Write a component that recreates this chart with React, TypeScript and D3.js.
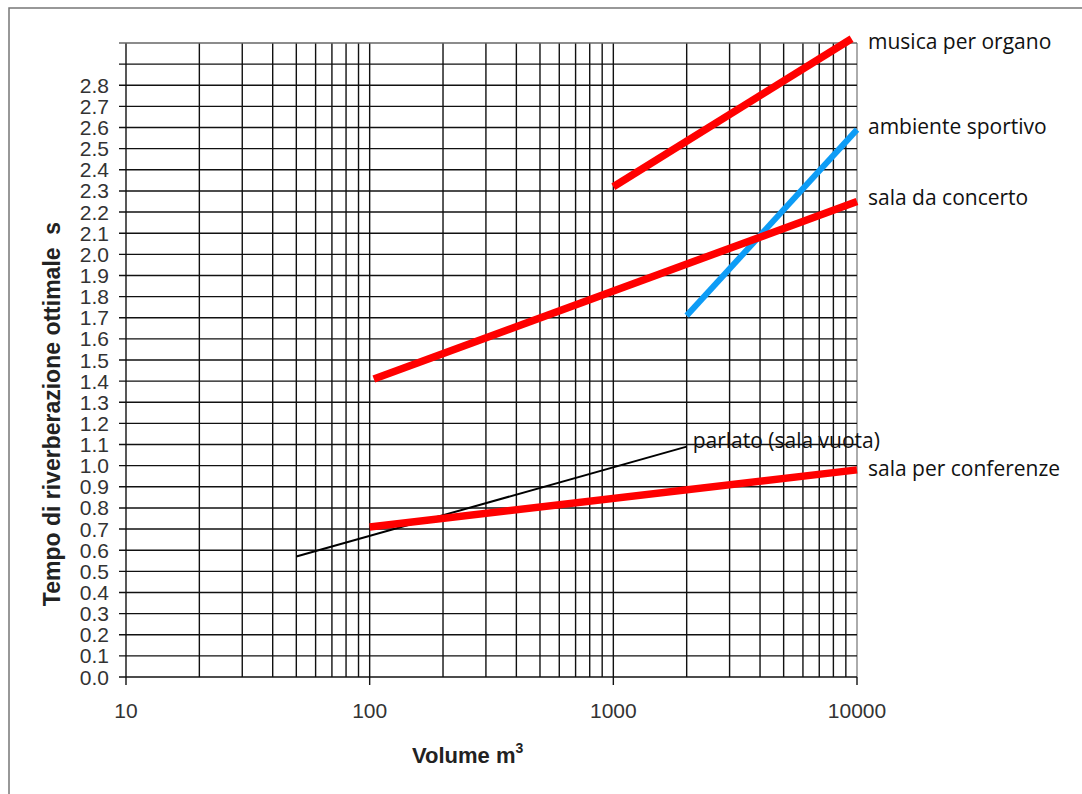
import React, { useEffect, useRef } from 'react';
import * as d3 from 'd3';

// x axis: room volume (m3), log scale
const volumeDomain = [10, 10000];
const volumeLabels = [10, 100, 1000, 10000];
// y axis: optimal reverberation time (s)
const timeDomain = [0, 3.0];
const timeGrid = [0, 0.1, 0.2, 0.3, 0.4, 0.5, 0.6, 0.7, 0.8, 0.9, 1.0, 1.1, 1.2, 1.3, 1.4, 1.5,
  1.6, 1.7, 1.8, 1.9, 2.0, 2.1, 2.2, 2.3, 2.4, 2.5, 2.6, 2.7, 2.8, 2.9, 3.0];
const timeLabels = [0, 0.1, 0.2, 0.3, 0.4, 0.5, 0.6, 0.7, 0.8, 0.9, 1.0, 1.1, 1.2, 1.3, 1.4, 1.5,
  1.6, 1.7, 1.8, 1.9, 2.0, 2.1, 2.2, 2.3, 2.4, 2.5, 2.6, 2.7, 2.8];

// series: [volume, time] end points
const musicaOrgano = [[1000, 2.32], [9500, 3.02]];
const ambienteSportivo = [[2000, 1.71], [10000, 2.59]];
const salaConcerto = [[104, 1.41], [10000, 2.25]];
const parlato = [[50, 0.57], [2000, 1.09]];
const salaConferenze = [[100, 0.71], [10000, 0.98]];

const seriesNames = ['musica per organo', 'ambiente sportivo', 'sala da concerto', 'parlato (sala vuota)', 'sala per conferenze'];
const seriesData = [musicaOrgano, ambienteSportivo, salaConcerto, parlato, salaConferenze];
const seriesColors = ['#ff0000', '#0d9cf6', '#ff0000', '#000000', '#ff0000'];
const seriesWidths = [7.5, 6, 7.5, 2, 7.5];
// label anchor [volume, time] for each series
const labelAnchors = [[10000, 3.0], [10000, 2.6], [10000, 2.26], [2000, 1.11], [10000, 0.98]];

const App = () => {
  const svgRef = useRef<SVGSVGElement>(null);

  useEffect(() => {
    const width = 1082;
    const height = 794;
    const margin = { top: 43, right: 225, bottom: 117, left: 126 };

    const svg = d3.select(svgRef.current);
    svg.selectAll('*').remove();
    svg.attr('width', width).attr('height', height);

    // outer frame
    svg.append('rect')
      .attr('x', 9).attr('y', 8)
      .attr('width', width + 20).attr('height', height + 20)
      .attr('fill', 'white')
      .attr('stroke', '#777')
      .attr('stroke-width', 1.5);

    const x = d3.scaleLog().domain(volumeDomain).range([margin.left, width - margin.right]);
    const y = d3.scaleLinear().domain(timeDomain).range([height - margin.bottom, margin.top]);

    const [x0, x1] = x.range();
    const [y0, y1] = y.range();

    const grid = svg.append('g').attr('stroke', '#111').attr('stroke-width', 1.4);

    // vertical grid (log minor lines)
    x.ticks().forEach(v => {
      grid.append('line')
        .attr('x1', x(v)).attr('x2', x(v))
        .attr('y1', y1).attr('y2', y0)
        .attr('stroke', v === 10000 ? '#888' : '#111');
    });

    // horizontal grid with small ticks to the left
    timeGrid.forEach(t => {
      grid.append('line')
        .attr('x1', x0 - 7).attr('x2', x1)
        .attr('y1', y(t)).attr('y2', y(t))
        .attr('stroke', t === 3.0 ? '#666' : '#111');
    });

    // decade ticks under the axis
    volumeLabels.forEach(v => {
      grid.append('line')
        .attr('x1', x(v)).attr('x2', x(v))
        .attr('y1', y0).attr('y2', y0 + 8);
    });

    // tick labels
    svg.append('g')
      .selectAll('text')
      .data(timeLabels)
      .join('text')
      .attr('x', x0 - 17)
      .attr('y', d => y(d) + 7.5)
      .attr('text-anchor', 'end')
      .attr('font-family', '"Liberation Sans", Arial, sans-serif')
      .attr('font-size', 21)
      .attr('fill', '#333')
      .text(d => d.toFixed(1));

    svg.append('g')
      .selectAll('text')
      .data(volumeLabels)
      .join('text')
      .attr('x', d => x(d))
      .attr('y', y0 + 41)
      .attr('text-anchor', 'middle')
      .attr('font-family', '"Liberation Sans", Arial, sans-serif')
      .attr('font-size', 21)
      .attr('fill', '#333')
      .text(d => String(d));

    // axis titles
    svg.append('text')
      .attr('transform', `translate(60, ${414}) rotate(-90)`)
      .attr('text-anchor', 'middle')
      .attr('font-family', '"Liberation Sans", Arial, sans-serif')
      .attr('font-weight', 'bold')
      .attr('font-size', 23)
      .attr('fill', '#222')
      .style('white-space', 'pre')
      .text('Tempo di riverberazione ottimale  s');

    const xt = svg.append('text')
      .attr('x', 412)
      .attr('y', 763)
      .attr('font-family', '"Liberation Sans", Arial, sans-serif')
      .attr('font-weight', 'bold')
      .attr('font-size', 22)
      .attr('fill', '#222');
    xt.append('tspan').text('Volume m');
    xt.append('tspan').attr('font-size', 14).attr('dy', -10).text('3');

    // series lines
    const line = d3.line<number[]>().x(d => x(d[0])).y(d => y(d[1]));
    seriesData.forEach((data, i) => {
      svg.append('path')
        .attr('d', line(data))
        .attr('fill', 'none')
        .attr('stroke', seriesColors[i])
        .attr('stroke-width', seriesWidths[i]);
    });

    // series labels
    labelAnchors.forEach((a, i) => {
      svg.append('text')
        .attr('x', x(a[0]) + (i === 3 ? 6 : 11))
        .attr('y', y(a[1]) + 6)
        .attr('font-family', '"Open Sans", "Noto Sans", sans-serif')
        .attr('font-size', 21)
        .attr('fill', '#111')
        .text(seriesNames[i]);
    });
  }, []);

  return (
    <div style={{ position: 'absolute', left: 0, top: 0 }}>
      <svg ref={svgRef} style={{ display: 'block' }}></svg>
    </div>
  );
};

export default App;
